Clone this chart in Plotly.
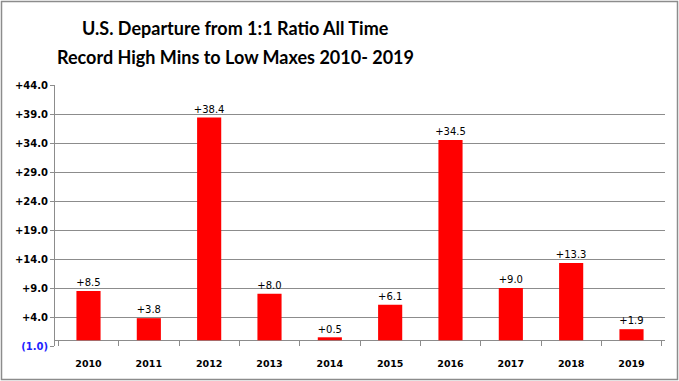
import plotly.graph_objects as go

years = ["2010", "2011", "2012", "2013", "2014", "2015", "2016", "2017", "2018", "2019"]
values = [8.5, 3.8, 38.4, 8.0, 0.5, 6.1, 34.5, 9.0, 13.3, 1.9]
bar_labels = ["+8.5", "+3.8", "+38.4", "+8.0", "+0.5", "+6.1", "+34.5", "+9.0", "+13.3", "+1.9"]
y_tickvals = [-1, 4, 9, 14, 19, 24, 29, 34, 39, 44]
y_ticktext = ["<span style='color:#1f1fff'>(1.0)</span>", "+4.0", "+9.0", "+14.0", "+19.0",
              "+24.0", "+29.0", "+34.0", "+39.0", "+44.0"]
title_lines = ["U.S. Departure from 1:1 Ratio All Time", "Record High Mins to Low Maxes 2010- 2019"]

W, H = 679, 381
ML, MR, MT, MB = 55, 14, 85, 35
grid = "#8c8c8c"
pw, ph = W - ML - MR, H - MT - MB

fig = go.Figure()
fig.add_trace(go.Bar(
    x=years, y=values,
    marker=dict(color="#ff0000", line=dict(width=0)),
    width=0.4, hoverinfo="skip",
))
fig.add_trace(go.Scatter(
    x=years, y=values, text=bar_labels, mode="markers+text", textposition="top center",
    marker=dict(size=2, color="rgba(0,0,0,0)"), cliponaxis=False, hoverinfo="skip",
    textfont=dict(family="DejaVu Sans", size=10, color="black"),
))

# title lines placed at their pixel rows
for line, ypx in zip(title_lines, [28, 57]):
    fig.add_annotation(text=line, xref="paper", yref="paper", showarrow=False,
                       x=(235 - ML) / pw, y=(H - MB - ypx) / ph,
                       xanchor="center", yanchor="middle",
                       font=dict(family="Lato", size=18, color="black", weight="bold"))

fig.add_shape(type="rect", xref="paper", yref="paper",
              x0=(1.5 - ML) / pw, x1=(W - 1.5 - ML) / pw,
              y0=-(MB - 1.5) / ph, y1=(H - 1.5 - MB) / ph,
              line=dict(color="#8c8c8c", width=1.5), layer="below")

fig.update_layout(
    width=W, height=H,
    margin=dict(l=ML, r=MR, t=MT, b=MB),
    paper_bgcolor="white", plot_bgcolor="white",
    showlegend=False,
    xaxis=dict(type="category", showgrid=False, showline=False, automargin=False,
               ticks="inside", tickson="boundaries", ticklen=6, tickcolor=grid, tickwidth=1,
               tickfont=dict(family="DejaVu Sans", size=9.5, color="black", weight="bold"),
               ticklabelstandoff=10, tickangle=0),
    yaxis=dict(range=[-1, 44], tickvals=y_tickvals, ticktext=y_ticktext, automargin=False,
               showgrid=True, gridcolor=grid, gridwidth=1,
               showline=True, linecolor=grid, linewidth=1,
               ticks="outside", ticklen=4, tickcolor=grid,
               zeroline=True, zerolinecolor=grid, zerolinewidth=1,
               tickfont=dict(family="DejaVu Sans", size=10, color="black", weight="bold")),
)

fig.write_html("out.html", config={"displayModeBar": False},
               post_script="document.body.style.margin='0';document.body.style.overflow='hidden';")
